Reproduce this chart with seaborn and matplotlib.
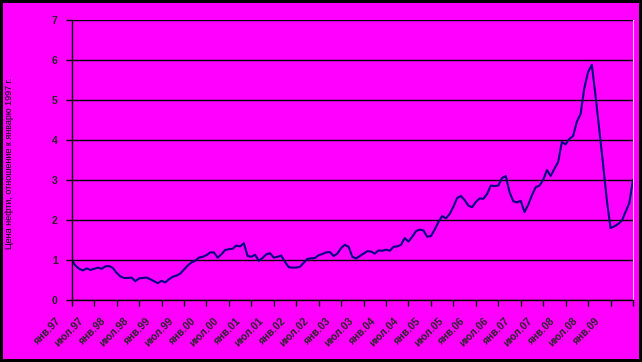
import matplotlib
matplotlib.use("Agg")
import matplotlib.pyplot as plt
import matplotlib.transforms as mtransforms
import numpy as np
import pandas as pd
import seaborn as sns

# monthly values, Jan 1997 .. Jul 2009 (Jan 1997 = 1)
ratio = [
    1.00, 0.86, 0.78, 0.74, 0.79, 0.75, 0.78, 0.81, 0.78, 0.84, 0.85, 0.80,
    0.68, 0.59, 0.55, 0.55, 0.56, 0.47, 0.54, 0.55, 0.56, 0.52, 0.47, 0.42,
    0.48, 0.44, 0.52, 0.58, 0.61, 0.66, 0.76, 0.86, 0.94, 0.98, 1.06, 1.08,
    1.12, 1.19, 1.19, 1.06, 1.14, 1.25, 1.27, 1.28, 1.36, 1.34, 1.42, 1.10,
    1.08, 1.13, 0.98, 1.05, 1.14, 1.17, 1.06, 1.08, 1.11, 0.95, 0.82, 0.81,
    0.81, 0.83, 0.93, 1.03, 1.04, 1.05, 1.12, 1.15, 1.19, 1.20, 1.10, 1.16,
    1.30, 1.38, 1.33, 1.08, 1.04, 1.10, 1.16, 1.22, 1.21, 1.16, 1.24, 1.23,
    1.26, 1.23, 1.33, 1.34, 1.38, 1.55, 1.46, 1.58, 1.72, 1.76, 1.74, 1.58,
    1.60, 1.76, 1.95, 2.10, 2.04, 2.15, 2.33, 2.55, 2.60, 2.50, 2.36, 2.32,
    2.45, 2.54, 2.53, 2.65, 2.86, 2.85, 2.86, 3.05, 3.10, 2.70, 2.47, 2.44,
    2.48, 2.20, 2.38, 2.62, 2.82, 2.86, 3.00, 3.25, 3.10, 3.28, 3.45, 3.95,
    3.89, 4.03, 4.10, 4.46, 4.65, 5.30, 5.70, 5.88, 5.10, 4.25, 3.40, 2.50,
    1.80, 1.84, 1.90, 1.98, 2.20, 2.42, 3.00,
]
tick_labels = [
    "янв.97", "июл.97", "янв.98", "июл.98", "янв.99", "июл.99",
    "янв.00", "июл.00", "янв.01", "июл.01", "янв.02", "июл.02",
    "янв.03", "июл.03", "янв.04", "июл.04", "янв.05", "июл.05",
    "янв.06", "июл.06", "янв.07", "июл.07", "янв.08", "июл.08",
    "янв.09", "",
]
y_label = "Цена нефти, отношение к январю 1997 г."

df = pd.DataFrame({"month": np.arange(len(ratio)), "ratio": ratio})

sns.set_style("white")
plt.rcParams["font.family"] = ["Liberation Sans", "DejaVu Sans"]

magenta = "#FF00FF"
fig = plt.figure(figsize=(6.42, 3.62), dpi=100, facecolor=magenta,
                 edgecolor="black", linewidth=3)
ax = fig.add_axes([71.7 / 642, 62 / 362, (633 - 71.7) / 642, 280 / 362])
ax.set_facecolor(magenta)

sns.lineplot(data=df, x="month", y="ratio", ax=ax, color="#000080", linewidth=1.5)

ax.set_xlim(0, 150)
ax.set_ylim(0, 7)
ax.set_yticks(range(0, 8))
ax.set_xticks(range(0, 151, 6))
ax.set_xticklabels(tick_labels, rotation=45, ha="right", va="center",
                   rotation_mode="anchor", fontsize=7.5, fontweight="bold")
ax.set_yticklabels([str(v) for v in range(0, 8)], fontsize=7.5, fontweight="bold")
ax.yaxis.grid(True, color="black", linewidth=1)
ax.set_axisbelow(True)

ax.spines["top"].set_visible(False)
ax.spines["right"].set_color("#FFB8FF")
ax.spines["right"].set_linewidth(0.8)
for side in ["left", "bottom"]:
    ax.spines[side].set_color("black")
    ax.spines[side].set_linewidth(1)
ax.tick_params(axis="both", direction="out", length=4, width=1, color="black",
               bottom=True, left=True)
ax.tick_params(axis="y", pad=6)

# shift the rotated date labels left, like the original
offset = mtransforms.ScaledTranslation(-12 / 100, -9 / 100, fig.dpi_scale_trans)
for lbl in ax.get_xticklabels():
    lbl.set_transform(lbl.get_transform() + offset)

ax.set_xlabel("")
ax.set_ylabel("")
fig.text(10 / 642, 0.55, y_label, rotation=90, fontsize=6.5, color="black",
         ha="center", va="center")

fig.savefig("out.png", dpi=100, facecolor=magenta, edgecolor="black")
